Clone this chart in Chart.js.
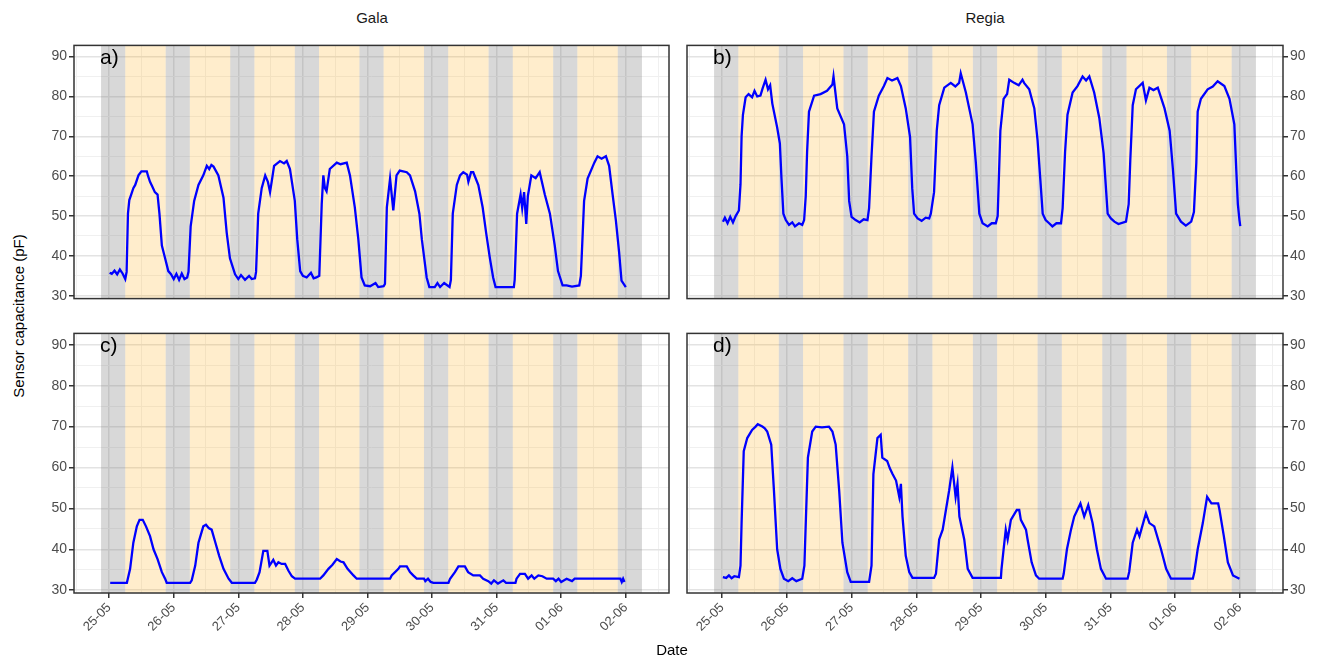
<!DOCTYPE html>
<html>
<head>
<meta charset="utf-8">
<script src="https://cdn.jsdelivr.net/npm/chart.js@4.4.1/dist/chart.umd.min.js"></script>
<style>
  body { margin: 0; width: 1318px; height: 660px; background: #fff; position: relative; overflow: hidden;
         font-family: 'Liberation Sans', Arial, sans-serif; }
  canvas { position: absolute; }
  .txt { position: absolute; white-space: nowrap; color: #1a1a1a; line-height: 1; }
  .lbl { position: absolute; white-space: nowrap; color: #000; line-height: 1; z-index: 5; font-size: 21px; }
</style>
</head>
<body>
<div class="txt" style="left:18px; top:316px; font-size:15px; color:#000; transform:translate(-50%,-50%) rotate(-90deg)">Sensor capacitance (pF)</div>

<canvas id="pa" width="650" height="274" style="left:24px; top:35px"></canvas>
<canvas id="pb" width="636" height="274" style="left:682px; top:35px"></canvas>
<canvas id="pc" width="650" height="337" style="left:24px; top:323px"></canvas>
<canvas id="pd" width="636" height="337" style="left:682px; top:323px"></canvas>

<div class="txt" style="left:372px; top:10px; font-size:15px; transform:translateX(-50%)">Gala</div>
<div class="txt" style="left:985px; top:10px; font-size:15px; transform:translateX(-50%)">Regia</div>
<div class="txt" style="left:672px; top:642px; font-size:15px; color:#000; transform:translateX(-50%)">Date</div>
<div class="lbl" style="left:100px; top:46px">a)</div>
<div class="lbl" style="left:713px; top:46px">b)</div>
<div class="lbl" style="left:100px; top:334px">c)</div>
<div class="lbl" style="left:713px; top:334px">d)</div>

<script>
// x values are hours since 25-05 00:00
const dateLabels = ['25-05', '26-05', '27-05', '28-05', '29-05', '30-05', '31-05', '01-06', '02-06'];
const xTicks = [-12, 0, 12, 24, 36, 48, 60, 72, 84, 96, 108, 120, 132, 144, 156, 168, 180, 192, 204];
const yTicks = [30, 35, 40, 45, 50, 55, 60, 65, 70, 75, 80, 85, 90];

// night (grey) and day (orange) periods
const nightBands = [[-3, 6], [21, 30], [45, 54], [69, 78], [93, 102], [117, 126], [141, 150], [165, 174], [189, 198]];
const dayBands = [[6, 21], [30, 45], [54, 69], [78, 93], [102, 117], [126, 141], [150, 165], [174, 189]];

// a) Gala, top
const capA = [[0.2,35.8],[1,35.5],[2,36.3],[3,35.4],[4,36.6],[5,35.6],[6,34.2],[6.5,36],[7,50.6],[7.5,54],[8.2,55.4],[9,57],
  [9.7,57.8],[10.9,60.2],[12,61.2],[14,61.2],[14.5,60],[15.2,58.6],[16,57.5],[17,56],[18,55.4],[18.7,50.6],[19.6,42.6],
  [20.8,39.4],[22,36.2],[23,35.4],[24,34.2],[25,35.5],[26,34],[27,35.6],[28,34.2],[29,34.6],[29.5,36],[30.3,47.4],
  [31.6,53.8],[33.2,57.8],[35,60.2],[36.3,62.6],[37.2,61.8],[38,62.8],[38.8,62.4],[40.6,60.2],[42.5,54.6],[43.7,45.8],
  [44.9,39.4],[46.8,35.4],[48,34.2],[49,35.2],[50.5,34],[52,35],[53,34.2],[54.2,34.4],[54.6,36],[55.4,50.6],[56.7,57],
  [58,60.2],[59,58.6],[59.8,56],[60.5,59],[61.3,62.6],[63.5,63.8],[65,63.2],[66,63.8],[67.2,61.8],[69,53.8],[69.9,44.2],
  [71,36.2],[72,35],[73.4,34.6],[75,35.8],[76,34.4],[77,34.6],[78.1,35],[79,53],[79.6,60.2],[80.2,57],[80.8,56.2],
  [82,61.8],[84.6,63.4],[86,63],[88.3,63.4],[89.5,60.2],[91.3,52.2],[92.6,44.2],[93.8,34.6],[95,32.6],[97,32.4],
  [99,33.2],[100,32.2],[102,32.4],[102.5,33],[103.2,52.2],[104.4,59.4],[105.6,51.4],[106.8,60.2],[108,61.4],[110.6,61],
  [111.8,60.2],[113.7,56.2],[115.3,50.6],[116.2,44.2],[117.4,37.8],[118,34.6],[119,32.2],[121,32.2],[122,33.2],
  [123,32.2],[124.5,33.2],[126.5,32.2],[127,34],[127.7,50.6],[129.2,57.8],[130.4,60.2],[131.6,61],[133,60.4],
  [133.5,58.6],[134.5,61],[135.3,61],[137.2,57.8],[138.8,52.2],[140.1,45.8],[141.5,39.4],[142.7,34.6],[143.6,32.2],
  [150.4,32.2],[150.7,34],[151.6,50.6],[152.9,55.4],[153.5,52],[154.2,56],[155,48],[155.6,55],[156.9,60.2],[158.5,59.5],
  [160,61],[161.9,55.4],[163.8,50.6],[165.6,42.6],[166.8,36.2],[168.5,32.6],[170,32.6],[172,32.3],[174.7,32.6],
  [175.3,35],[176.5,53.8],[177.8,59.4],[180.3,63.4],[181.5,65],[183,64.4],[184.6,65],[185.8,62.6],[187.1,55.4],
  [188.3,49],[189.5,41],[190.4,33.8],[192,32.2]];

// b) Regia, top
const capB = [[0.3,48.6],[1,49.6],[2,48.2],[3,49.8],[4,48.4],[5,50],[6.2,51.4],[6.8,58],[7.2,70],[7.7,75.4],[8.7,79.8],
  [9.8,80.6],[11.1,79.8],[12,81.4],[13,80],[14.2,80.2],[15,82],[16.1,84.2],[17,81.8],[17.8,82.8],[18.6,78.2],[20.4,72.2],
  [21.4,68.2],[22,59.4],[22.7,50.6],[23.6,49],[24.8,47.8],[26,48.4],[27,47.4],[28.5,48.2],[29.7,47.8],[30.4,49],[31,55],
  [31.5,66],[32.2,76.2],[34.1,80.2],[36.5,80.6],[38.9,81.4],[40.9,83],[41.3,85],[42.7,77],[45.2,73],[46.4,65],[47.1,53.8],
  [48,49.8],[49.5,49],[51,48.4],[52.5,49.2],[53.9,49],[54.5,52],[55.4,65],[56.3,76.2],[58.1,80.2],[60,82.6],[61.3,84.6],
  [63,84],[65,84.6],[66.3,82.6],[68.1,77],[69.7,69.8],[70.5,57],[71.2,50.6],[72.5,49.4],[74,48.8],[75.5,49.6],[76.8,49.4],
  [77.4,50.6],[78.6,56],[79.6,71.4],[80.5,77.8],[82.4,82.2],[84.8,83.4],[86.5,82.5],[87.9,83.4],[88.5,85.8],[90.4,81],
  [92.9,73],[94.1,63.4],[95.4,50.6],[96.6,48.2],[98.5,47.4],[100,48.2],[101.5,48.2],[102.2,50],[103.2,71.4],[104.4,79.4],
  [105.7,80.6],[106.5,84.2],[108.3,83.4],[110,82.8],[111.4,84.2],[112,83.4],[113.9,81.8],[115.8,77],[117,69],[118,59.4],
  [118.9,50.6],[120,49],[121.3,48.2],[122.5,47.4],[124,48.2],[125.7,48.2],[126.3,52],[127.2,66],[128.1,75.4],[130,81],
  [131.8,82.6],[133.7,85],[135,84],[136.2,85],[138,81],[139.9,74.6],[141.5,65.8],[143,50.6],[144.2,49.4],[145.5,48.6],
  [147,48],[149.8,48.6],[150.8,53],[151.4,64],[152.3,77.8],[153.5,81.8],[156,83.4],[157.2,79],[158.5,82.2],[160,81.6],
  [161.6,82.2],[164.1,77],[166,71.4],[167.2,61.8],[168.4,50.6],[170.2,48.6],[172,47.6],[174,48.6],[175,51],[175.9,63.4],
  [176.4,76.2],[177.6,79.4],[180.1,81.8],[182,82.5],[183.8,83.8],[186.3,82.6],[188.2,79.4],[190,73],[190.7,61.8],
  [191.3,53],[191.9,49],[192.2,47.5]];

// c) Gala, bottom
const capC = [[0.4,31.8],[6.6,31.8],[7.8,35.2],[9,41.6],[10.3,45.6],[11.3,47.2],[12.5,47.2],[13.7,45.6],[15.2,43.2],
  [16.5,40],[18,37.6],[19.6,34.4],[20.8,32.8],[21.4,31.8],[30.1,31.8],[30.7,32.4],[32,36],[33.2,41.6],[35,45.6],[36,46],
  [37,45.2],[38.1,44.8],[39.5,41.6],[40.9,38.4],[42.5,35.2],[44.4,32.8],[45.6,31.8],[54.2,31.8],[54.9,32.6],[55.9,34.4],
  [57.3,39.6],[58.8,39.6],[59.6,36],[61,37.4],[62,36],[62.9,36.8],[64.1,36.4],[65.4,36.4],[66.6,34.8],[67.9,33.4],
  [69.1,32.8],[78.4,32.8],[79.6,33.6],[81.5,35.2],[83,36.2],[84.6,37.6],[86,37],[87.1,36.8],[88.6,35.2],[90.8,33.6],
  [92,32.8],[104.4,32.8],[105,33.6],[107.5,35.2],[108.1,35.8],[110.6,35.8],[111.8,34.4],[113,33.6],[114.3,32.8],
  [117,32.8],[117.5,32.2],[118.5,32.8],[119.5,32],[120.5,31.8],[126.1,31.8],[126.7,32.8],[128.5,34.4],[129.8,35.8],
  [132.2,35.8],[133.4,34.4],[135.3,33.6],[137.8,33.6],[139,32.8],[140.9,32.2],[142,31.6],[143,32.4],[144.5,31.6],
  [146.5,32.4],[147.5,31.8],[151,31.8],[151.4,32.8],[152.7,34],[154.5,34],[155.7,32.8],[157,33.6],[158,32.8],[159.5,33.6],
  [161,33.4],[162.6,32.8],[165,32.8],[166,32.2],[167,32.8],[168,32],[170,32.8],[172,32.2],[173,32.8],[190,32.8],
  [190.5,32],[191,32.8],[191.5,32]];

// d) Regia, bottom
const capD = [[0.25,33.2],[1.5,33],[2.5,33.6],[3.5,32.9],[4.5,33.4],[6.2,33.2],[6.8,36],[7.2,46.4],[8,64],[9.3,67.2],
  [11.1,69.2],[12.4,70],[13.2,70.6],[14.9,70],[15.8,69.6],[16.7,68.8],[18.2,65.6],[19.2,54.4],[20.4,40],[21.6,35.2],
  [22.9,32.8],[24.5,32.2],[26,32.9],[27.5,32.2],[29.7,32.8],[30.5,36],[31.8,62.4],[33.4,68.8],[34.7,70],[37,69.8],
  [39.6,70],[40.9,68.8],[42.1,65.6],[43.4,54.4],[44.6,41.6],[46.4,34.4],[47.7,32],[54.5,32],[55.4,36],[56.1,58.4],
  [57.6,67.2],[58.8,68],[59.4,62.4],[61.2,61.6],[62.2,59.8],[63.2,58.4],[64.5,56.8],[65.7,52.8],[66.3,56],[66.9,48],
  [68.1,38.4],[69.4,34.4],[70.6,33],[78.6,33],[79.3,34],[80.5,42.4],[81.8,44.8],[83,49.6],[84.2,54.4],[85.4,60],
  [86.6,52.8],[87.3,56],[88,48],[89.8,42.4],[91.1,35.2],[92.9,33],[103.4,33],[103.6,35],[104.4,40],[105.2,44.8],
  [105.9,42.4],[107.1,47.2],[109.3,49.6],[110.2,49.6],[110.8,47.2],[112.7,44.8],[113.3,42.4],[114.8,36.8],[116.4,33.6],
  [117.6,32.8],[126.3,32.8],[126.7,34],[127.9,40],[129.4,44.8],[130.6,48],[132.9,51.2],[134.3,48],[135.8,50.8],
  [137.4,46.4],[139,40],[140.5,35.2],[142.4,32.8],[150.4,32.8],[151,34.5],[152.3,41.6],[153.9,44.8],[154.8,43.2],
  [157.2,48.8],[158.5,46.4],[160.3,45.6],[162.8,40],[164.7,35.2],[166.5,32.8],[174.6,32.8],[175.2,34.5],[176.4,40],
  [178.3,46.4],[179.9,52.8],[181.5,51.2],[184,51.2],[184.5,49.6],[186.1,43.2],[187.6,36.8],[189.5,33.6],[191.9,32.8]];

const xMin = -13.05, xMax = 208.05, yMin = 29.3, yMax = 92.8;
const FONT = "'Liberation Sans', Arial, sans-serif";

// grey/orange shading behind the line, then the panel frame
const bandsPlugin = {
  id: 'bands',
  beforeDatasetsDraw(chart) {
    const { ctx, chartArea: a, scales: { x } } = chart;
    ctx.save();
    ctx.beginPath();
    ctx.rect(a.left, a.top, a.width, a.height);
    ctx.clip();
    const fill = (bands, color) => {
      ctx.fillStyle = color;
      bands.forEach(([s, e]) => {
        const x0 = x.getPixelForValue(s), x1 = x.getPixelForValue(e);
        ctx.fillRect(x0, a.top, x1 - x0, a.height);
      });
    };
    fill(nightBands, 'rgba(127,127,127,0.3)');
    fill(dayBands, 'rgba(255,165,0,0.2)');
    ctx.restore();
  },
  afterDraw(chart) {
    const { ctx, chartArea: a } = chart;
    ctx.save();
    ctx.strokeStyle = '#333';
    ctx.lineWidth = 1.5;
    ctx.strokeRect(a.left, a.top, a.width, a.height);
    ctx.restore();
  }
};

function makePanel(id, series, right, bottom) {
  new Chart(document.getElementById(id), {
    type: 'line',
    data: {
      datasets: [{
        data: series.map(([h, v]) => ({ x: h, y: v })),
        borderColor: '#0000ff',
        borderWidth: 2.3,
        pointRadius: 0,
        tension: 0
      }]
    },
    options: {
      responsive: false,
      animation: false,
      layout: { padding: { top: 5, bottom: bottom ? 0 : 5, left: right ? 5 : 0, right: right ? 0 : 5 } },
      plugins: { legend: { display: false }, tooltip: { enabled: false } },
      scales: {
        x: {
          type: 'linear', min: xMin, max: xMax,
          afterBuildTicks: s => { s.ticks = xTicks.map(v => ({ value: v })); },
          afterFit: s => { s.height = bottom ? 67 : 0; },
          border: { display: false },
          grid: {
            color: c => (c.tick && c.tick.value % 24 === 0) ? '#e3e3e3' : '#f0f0f0',
            lineWidth: c => (c.tick && c.tick.value % 24 === 0) ? 1.5 : 1,
            drawTicks: bottom,
            tickLength: 5,
            tickColor: c => (c.tick && c.tick.value % 24 === 0) ? '#333' : 'rgba(0,0,0,0)'
          },
          ticks: {
            display: bottom, autoSkip: false, minRotation: 45, maxRotation: 45, padding: 2,
            color: '#4d4d4d', font: { size: 13, family: FONT },
            callback: v => v % 24 === 0 ? dateLabels[v / 24] : ''
          }
        },
        y: {
          position: right ? 'right' : 'left',
          min: yMin, max: yMax,
          afterBuildTicks: s => { s.ticks = yTicks.map(v => ({ value: v })); },
          afterFit: s => { s.width = right ? 35 : 50; },
          border: { display: false },
          grid: {
            color: c => (c.tick && c.tick.value % 10 === 0) ? '#e3e3e3' : '#f0f0f0',
            lineWidth: c => (c.tick && c.tick.value % 10 === 0) ? 1.5 : 1,
            tickLength: 5,
            tickColor: c => (c.tick && c.tick.value % 10 === 0) ? '#333' : 'rgba(0,0,0,0)'
          },
          ticks: {
            padding: 2, color: '#4d4d4d', font: { size: 14, family: FONT },
            callback: v => v % 10 === 0 ? String(v) : ''
          }
        }
      }
    },
    plugins: [bandsPlugin]
  });
}

makePanel('pa', capA, false, false);
makePanel('pb', capB, true, false);
makePanel('pc', capC, false, true);
makePanel('pd', capD, true, true);
</script>
</body>
</html>
